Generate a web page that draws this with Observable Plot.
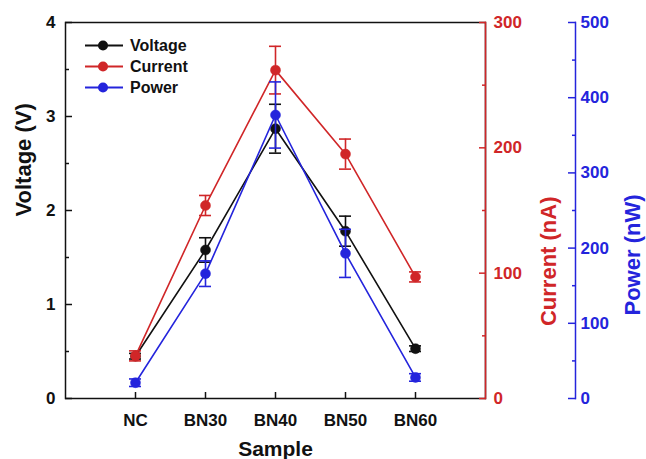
<!DOCTYPE html>
<html><head><meta charset="utf-8">
<script src="https://cdn.jsdelivr.net/npm/d3@7"></script>
<script src="https://cdn.jsdelivr.net/npm/@observablehq/plot@0.6"></script>
<style>
body{margin:0;background:#fff;}
#wrap{position:relative;width:646px;height:459px;}
#legend{position:absolute;left:85px;top:35px;font:bold 16px "Liberation Sans",Arial,sans-serif;color:#111;}
.row{display:flex;align-items:center;height:21px;}
.row svg{margin-right:7px;}
</style></head><body><div id="wrap"><div id="chart"></div><div id="legend"></div></div>
<script>
const samples = ["NC","BN30","BN40","BN50","BN60"];
const voltage = [0.45, 1.58, 2.87, 1.78, 0.53];
const voltageErr = [0.03, 0.13, 0.26, 0.16, 0.03];
const current = [34, 154, 262, 195, 97];
const currentErr = [4, 8, 19, 12, 4];
const power = [21, 166, 377, 193, 28];
const powerErr = [5, 17, 44, 32, 5];

const voltageTicks = [0, 1, 2, 3, 4];
const voltageMinor = [0.5, 1.5, 2.5, 3.5];
const currentTicks = [0, 100, 200, 300];
const currentMinor = [50, 150, 250];
const powerTicks = [0, 100, 200, 300, 400, 500];
const powerMinor = [50, 150, 250, 350, 450];
const vMax = 4, cMax = 300, pMax = 500;

const BLACK = "#111111", RED = "#d02628", BLUE = "#2424dc";
const FONT = '"Liberation Sans", Arial, sans-serif';

const series = [
  {name: "Voltage", values: voltage, err: voltageErr, k: 1, color: BLACK},
  {name: "Current", values: current, err: currentErr, k: vMax / cMax, color: RED},
  {name: "Power", values: power, err: powerErr, k: vMax / pMax, color: BLUE}
];

function seriesMarks(s) {
  const rows = samples.map((sample, i) => ({
    sample,
    y: s.values[i] * s.k,
    lo: (s.values[i] - s.err[i]) * s.k,
    hi: (s.values[i] + s.err[i]) * s.k
  }));
  return [
    Plot.line(rows, {x: "sample", y: "y", stroke: s.color, strokeWidth: 1.6}),
    Plot.ruleX(rows, {x: "sample", y1: "lo", y2: "hi", stroke: s.color, strokeWidth: 1.6}),
    Plot.tickY(rows, {x: "sample", y: "lo", stroke: s.color, strokeWidth: 1.6}),
    Plot.tickY(rows, {x: "sample", y: "hi", stroke: s.color, strokeWidth: 1.6}),
    Plot.dot(rows, {x: "sample", y: "y", r: 5, fill: s.color, stroke: s.color, strokeWidth: 0.5})
  ];
}

const cTo = v => v * vMax / cMax;
const pTo = v => v * vMax / pMax;

const chart = Plot.plot({
  width: 646,
  height: 459,
  marginLeft: 65,
  marginRight: 161,
  marginTop: 22,
  marginBottom: 61,
  style: {fontFamily: FONT, fontWeight: "bold", fontSize: "17px", background: "white", color: BLACK},
  x: {type: "band", domain: samples, paddingInner: 0.83, paddingOuter: 0.915, label: null},
  y: {domain: [0, vMax], label: null},
  marks: [
    Plot.frame({stroke: BLACK, strokeWidth: 1.5}),
    Plot.frame({anchor: "right", stroke: RED, strokeWidth: 1.5}),
    Plot.frame({anchor: "right", stroke: BLUE, strokeWidth: 1.5, dx: 90}),
    // x axis
    Plot.axisX({tickSize: -6, tickPadding: 21, label: null, stroke: BLACK, strokeWidth: 1.5, fill: BLACK, fontSize: 17}),
    // left voltage axis
    Plot.axisY({ticks: voltageTicks, tickFormat: d => String(Math.round(d)), tickSize: -7, tickPadding: 17, label: null, stroke: BLACK, strokeWidth: 1.5, fill: BLACK, fontSize: 17}),
    Plot.axisY({ticks: voltageMinor, tickSize: -4, label: null, stroke: BLACK, strokeWidth: 1.5, fill: "none"}),
    // red current axis
    Plot.axisY({anchor: "right", ticks: currentTicks.map(cTo), tickFormat: d => Math.round(d * cMax / vMax), tickSize: -7, tickPadding: 15, label: null, stroke: RED, strokeWidth: 1.5, fill: RED, fontSize: 17}),
    Plot.axisY({anchor: "right", ticks: currentMinor.map(cTo), tickSize: -4, label: null, stroke: RED, strokeWidth: 1.5, fill: "none"}),
    // blue power axis
    Plot.axisY({anchor: "right", dx: 90, ticks: powerTicks.map(pTo), tickFormat: d => Math.round(d * pMax / vMax), tickSize: -8, tickPadding: 13, label: null, stroke: BLUE, strokeWidth: 1.5, fill: BLUE, fontSize: 17}),
    Plot.axisY({anchor: "right", dx: 90, ticks: powerMinor.map(pTo), tickSize: -4, label: null, stroke: BLUE, strokeWidth: 1.5, fill: "none"}),
    // titles
    Plot.text(["Voltage (V)"], {text: d => d, frameAnchor: "left", dx: -42, dy: 6, rotate: -90, fontSize: 22, fontWeight: "bold", fill: BLACK}),
    Plot.text(["Current (nA)"], {text: d => d, frameAnchor: "right", dx: 63, dy: -14, rotate: -90, fontSize: 22, fontWeight: "bold", fill: RED}),
    Plot.text(["Power (nW)"], {text: d => d, frameAnchor: "right", dx: 147, dy: -16, rotate: -90, fontSize: 22, fontWeight: "bold", fill: BLUE}),
    Plot.text(["Sample"], {text: d => d, frameAnchor: "bottom", dy: 57, fontSize: 21, fontWeight: "bold", fill: BLACK}),
    ...seriesMarks(series[0]),
    ...seriesMarks(series[1]),
    ...seriesMarks(series[2])
  ]
});
document.getElementById("chart").appendChild(chart);

const legend = document.getElementById("legend");
for (const s of series) {
  const row = document.createElement("div");
  row.className = "row";
  row.innerHTML = `<svg width="38" height="21"><line x1="0" x2="38" y1="10.5" y2="10.5" stroke="${s.color}" stroke-width="1.8"/><circle cx="18" cy="10.5" r="5" fill="${s.color}"/></svg><span>${s.name}</span>`;
  legend.appendChild(row);
}
</script>
</body></html>
